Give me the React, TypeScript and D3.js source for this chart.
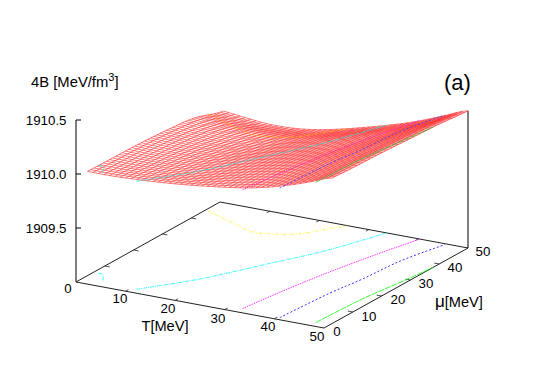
import React from "react";
import * as d3 from "d3";

// Surface heights (rows: mu, columns: T)
const gridT = [0, 5, 10, 15, 20, 25, 30, 35, 40, 45, 50];
const gridMu = [0, 10, 20, 30, 40, 50];
const zMu0 = [1909.99, 1909.99, 1910.0, 1910.015, 1910.035, 1910.06, 1910.09, 1910.13, 1910.19, 1910.265, 1910.35];
const zMu10 = [1909.985, 1909.98, 1909.985, 1909.995, 1910.015, 1910.045, 1910.08, 1910.125, 1910.185, 1910.26, 1910.335];
const zMu20 = [1909.98, 1909.97, 1909.965, 1909.97, 1909.99, 1910.02, 1910.06, 1910.11, 1910.175, 1910.25, 1910.325];
const zMu30 = [1909.965, 1909.95, 1909.935, 1909.935, 1909.95, 1909.985, 1910.03, 1910.085, 1910.155, 1910.235, 1910.31];
const zMu40 = [1909.935, 1909.91, 1909.895, 1909.89, 1909.905, 1909.945, 1910.0, 1910.06, 1910.125, 1910.21, 1910.295];
const zMu50 = [1909.85, 1909.825, 1909.805, 1909.81, 1909.84, 1909.89, 1909.95, 1910.015, 1910.09, 1910.18, 1910.27];
const zRows = [zMu0, zMu10, zMu20, zMu30, zMu40, zMu50];

// Mesh extent and line counts as seen in the picture
const tStart = 0.7;
const tEnd = 50;
const muStart = 2.8;
const muEnd = 50;
const meshT = 46;
const meshMu = 44;

// Contours: [T, mu] points read from the base plane
const contour1909_9: [number, number][] = [[0.6, 44.7], [7.7, 41.3], [13.1, 38.8], [16.7, 39.6], [20.4, 41.7], [23.6, 46.8], [25.8, 49.8]];
const contour1910_0: [number, number][] = [[11.1, 1.85], [17.9, 12.2], [23.6, 24.2], [29.4, 36.9], [33.6, 50]];
const contour1910_0b: [number, number][] = [[1, 6], [2.2, 5.65], [3.9, 2.4]];
const contour1910_1: [number, number][] = [[32.4, 2], [33.7, 13.7], [35.6, 26.8], [37.8, 38.6], [40.3, 50]];
const contour1910_2: [number, number][] = [[40.5, 1], [41.4, 16.9], [42.5, 26.4], [43.3, 38], [45.6, 49.6]];
const contour1910_3: [number, number][] = [[47.3, 1.8], [47.9, 16.9], [49.4, 30.9], [50, 38]];

const contours = [
  { level: 1909.9, pts: contour1909_9, color: "#ffff00", topColor: "#ffb000", dash: "3 2 1 2" },
  { level: 1910.0, pts: contour1910_0, color: "#00ffff", topColor: "#40d0d0", dash: "4 1 1 1" },
  { level: 1910.0, pts: contour1910_0b, color: "#00ffff", topColor: "#40d0d0", dash: "4 1 1 1" },
  { level: 1910.1, pts: contour1910_1, color: "#ff00ff", topColor: "#ff20c0", dash: "1.5 1" },
  { level: 1910.2, pts: contour1910_2, color: "#0000ff", topColor: "#4040ff", dash: "2 2" },
  { level: 1910.3, pts: contour1910_3, color: "#00ff00", topColor: "#40c040", dash: "6 1" },
];

const axisTicks = [10, 20, 30, 40];
const zTicks = [1909.5, 1910.0, 1910.5];
const tLabels = [
  { v: "0", x: 68, y: 288 }, { v: "10", x: 120, y: 298 }, { v: "20", x: 168, y: 308 },
  { v: "30", x: 218, y: 318 }, { v: "40", x: 268, y: 326 }, { v: "50", x: 317, y: 336 },
];
const muLabels = [
  { v: "0", x: 337, y: 331 }, { v: "10", x: 369, y: 316 }, { v: "20", x: 398, y: 299 },
  { v: "30", x: 426, y: 283 }, { v: "40", x: 455, y: 267 }, { v: "50", x: 483, y: 251 },
];

const originX = 76;
const originY = 282;
const tToX = d3.scaleLinear().domain([0, 50]).range([0, 248]);
const muToX = d3.scaleLinear().domain([0, 50]).range([0, 144]);
const tToY = d3.scaleLinear().domain([0, 50]).range([0, 46]);
const muToY = d3.scaleLinear().domain([0, 50]).range([0, -80]);
const zToY = d3.scaleLinear().domain([1909, 1910.5]).range([0, -162]);

type P = [number, number];
const project = (t: number, mu: number, z = 1909): P => [
  originX + tToX(t) + muToX(mu),
  originY + tToY(t) + muToY(mu) + zToY(z),
];

const crom = (a: number, b: number, c: number, d: number, s: number) =>
  0.5 * (2 * b + (c - a) * s + (2 * a - 5 * b + 4 * c - d) * s * s + (3 * b - a - 3 * c + d) * s * s * s);
const along = (vals: number[], u: number) => {
  const i = Math.min(Math.floor(u), vals.length - 2);
  const at = (k: number) => vals[Math.max(0, Math.min(vals.length - 1, k))];
  return crom(at(i - 1), at(i), at(i + 1), at(i + 2), u - i);
};
const surfaceZ = (t: number, mu: number) => {
  const u = t / (gridT[1] - gridT[0]);
  const v = mu / (gridMu[1] - gridMu[0]);
  return along(zRows.map((r) => along(r, u)), v);
};

const line = d3.line<P>();
const smooth = d3.line<P>().curve(d3.curveCatmullRom.alpha(0.5));

const font = "'Liberation Sans', Arial, Helvetica, sans-serif";

export default function App() {
  const ts = d3.range(meshT).map((i) => tStart + ((tEnd - tStart) * i) / (meshT - 1));
  const mus = d3.range(meshMu).map((i) => muStart + ((muEnd - muStart) * i) / (meshMu - 1));
  const tick = 1;
  const corners: P[] = [project(0, 0), project(50, 0), project(50, 50), project(0, 50), project(0, 0)];
  return (
    <svg width={545} height={382} style={{ position: "absolute", left: 0, top: 0, background: "#fff" }} fontFamily={font}>
      {/* base frame */}
      <path d={line(corners)!} fill="none" stroke="#222" strokeWidth={1} />
      {axisTicks.map((v) => (
        <g key={v} stroke="#222" strokeWidth={0.8}>
          <path d={line([project(v, 0), project(v, tick)])!} />
          <path d={line([project(v, 50), project(v, 50 - tick)])!} />
          <path d={line([project(0, v), project(tick, v)])!} />
          <path d={line([project(50, v), project(50 - tick, v)])!} />
        </g>
      ))}
      {/* vertical axes */}
      <path d={line([project(0, 0), project(0, 0, 1910.5)])!} stroke="#000" fill="none" strokeWidth={1} />
      <path d={line([project(50, 50), [project(50, 50)[0], project(50, 50, 1910.27)[1]]])!} stroke="#000" fill="none" strokeWidth={1} />
      {zTicks.map((z) => {
        const [x, y] = project(0, 0, z);
        return (
          <g key={z}>
            <line x1={x} x2={x + 5} y1={y} y2={y} stroke="#000" strokeWidth={1} />
            <text x={66.5} y={y + 4.5} fontSize={13.3} textAnchor="end" fill="#000">{z.toFixed(1)}</text>
          </g>
        );
      })}
      {/* base contours */}
      {contours.map((c, i) => (
        <path key={i} d={smooth(c.pts.map(([t, m]) => project(t, m)))!} fill="none" stroke={c.color} strokeWidth={0.8} strokeDasharray={c.dash} />
      ))}
      {/* mesh */}
      <g fill="none" stroke="#ff2020" strokeWidth={0.6}>
        {ts.map((t, i) => (
          <path key={i} d={line(mus.map((m) => project(t, m, surfaceZ(t, m))))!} />
        ))}
        {mus.map((m, i) => (
          <path key={i} d={line(ts.map((t) => project(t, m, surfaceZ(t, m))))!} />
        ))}
      </g>
      {/* contours on the surface */}
      {contours.map((c, i) => (
        <path key={i} d={smooth(c.pts.map(([t, m]) => project(t, m, c.level)))!} fill="none" stroke={c.topColor} strokeWidth={0.9} strokeDasharray={c.dash} />
      ))}
      {/* tick labels */}
      {[...tLabels, ...muLabels].map((l, i) => (
        <text key={i} x={l.x} y={l.y + 4.5} fontSize={13.3} textAnchor="middle" fill="#000">{l.v}</text>
      ))}
      <text x={165} y={331} fontSize={14.6} textAnchor="middle" fill="#000">T[MeV]</text>
      <text x={435} y={307} fontSize={14.6} fill="#000"><tspan fontSize={17}>μ</tspan>[MeV]</text>
      <text x={31} y={87} fontSize={14.8} fill="#000">
        4B [MeV/fm<tspan dy={-6} fontSize={11}>3</tspan><tspan dy={6}>]</tspan>
      </text>
      <text x={444} y={90} fontSize={22} fill="#000">(a)</text>
    </svg>
  );
}
